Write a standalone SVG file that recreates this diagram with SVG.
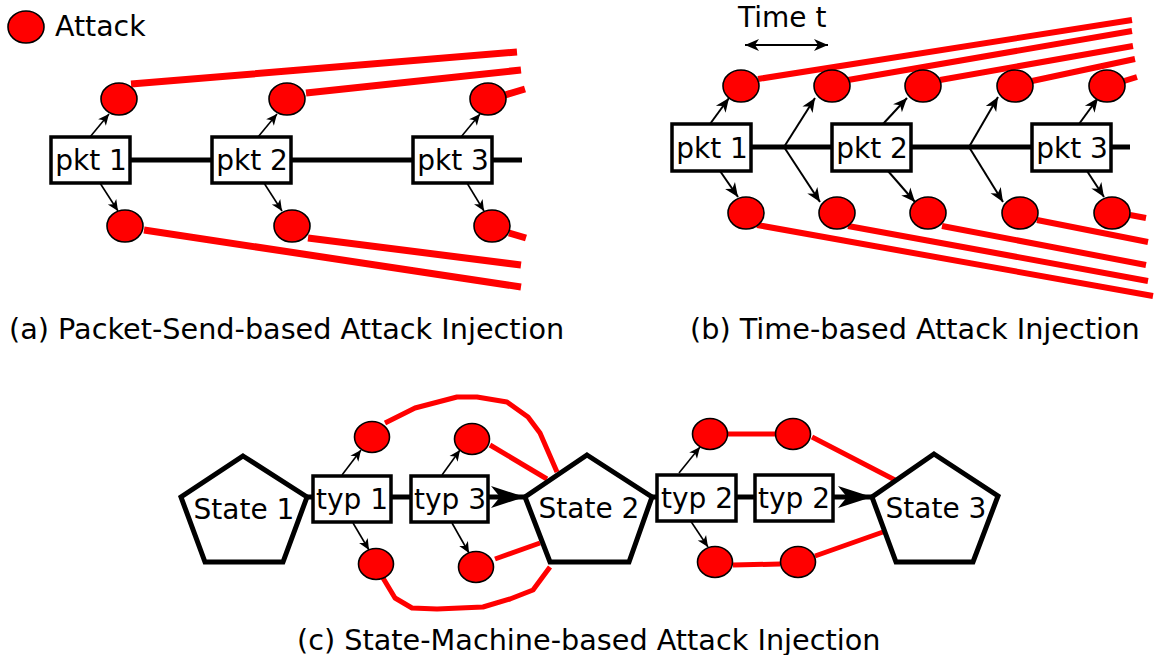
<svg xmlns="http://www.w3.org/2000/svg" width="1155" height="655" viewBox="0 0 1155 655">
  <style>
    text { font-family: "DejaVu Sans", "Liberation Sans", sans-serif; font-size: 28px; fill: #000; }
    .cap { font-size: 28.7px; }
    .lbl { text-anchor: middle; }
    .atk { fill: #ff0000; stroke: #000; stroke-width: 1.6; }
    .box { fill: #fff; stroke: #000; stroke-width: 3.5; }
    .state { fill: #fff; stroke: #000; stroke-width: 5; stroke-linejoin: miter; }
    .bus { stroke: #000; stroke-width: 5; fill: none; }
    .arr { stroke: #000; stroke-width: 1.6; fill: none; marker-end: url(#ah); }
    .arr2 { stroke: #000; stroke-width: 2; fill: none; marker-end: url(#ah2); }
    .red { stroke: #ff0000; fill: none; stroke-linejoin: round; }
  </style>
  <defs>
    <marker id="ah" viewBox="-12 -6 13 12" refX="0" refY="0" markerWidth="13" markerHeight="12" markerUnits="userSpaceOnUse" orient="auto">
      <path d="M0,0 L-11,-5 L-8,0 L-11,5 Z" fill="#000"/>
    </marker>
    <marker id="ah2" viewBox="-15 -7 16 14" refX="0" refY="0" markerWidth="16" markerHeight="14" markerUnits="userSpaceOnUse" orient="auto-start-reverse">
      <path d="M0,0 L-14,-6 L-10,0 L-14,6 Z" fill="#000"/>
    </marker>
    <marker id="bigah" viewBox="-36 -13 37 26" refX="0" refY="0" markerWidth="37" markerHeight="26" markerUnits="userSpaceOnUse" orient="auto">
      <path d="M0,0 L-34,-11 L-25,0 L-34,11 Z" fill="#000"/>
    </marker>
  </defs>

  <rect width="1155" height="655" fill="#fff"/>

  <!-- legend -->
  <g id="legend">
    <ellipse class="atk" cx="26" cy="27" rx="18" ry="16"/>
    <text x="55" y="36" style="font-size:28.4px">Attack</text>
  </g>

  <!-- all connectors -->
  <g id="connectors">
    <!-- (a) packet-send timeline -->
    <path class="bus" d="M130,160 H522"/>
    <path class="red" stroke-width="7" d="M131,84 L517,52 M306,93 L521,70 M505,95 L525,89 M144,230 L521,287 M308,238 L521,265 M509,233 L526,238"/>
    <path class="arr" d="M90,137 L109,114"/>
    <path class="arr" d="M100,183 L118,211"/>
    <path class="arr" d="M258,137 L277,114"/>
    <path class="arr" d="M264,183 L282,211"/>
    <path class="arr" d="M461,137 L480,114"/>
    <path class="arr" d="M467,183 L484,211"/>

    <!-- (b) time-based timeline -->
    <path class="bus" d="M751,147 H1130"/>
    <path class="arr2" d="M745,45 H828" style="marker-start:url(#ah2)"/>
    <path class="red" stroke-width="6" d="M758,79 L1132,20 M848,80 L1132,31 M940,80 L1133,46 M1032,81 L1135,59 M1124,81 L1137,77 M757,225 L1153,296 M848,226 L1148,281 M942,226 L1146,265 M1037,220 L1148,242 M1130,215 L1146,218"/>
    <path class="arr2" d="M710,124 L729,98"/>
    <path class="arr2" d="M720,171 L738,197"/>
    <path class="arr2" d="M784,147 L815,98"/>
    <path class="arr2" d="M784,147 L820,202"/>
    <path class="arr2" d="M883,124 L907,98"/>
    <path class="arr2" d="M888,171 L915,202"/>
    <path class="arr2" d="M969,147 L998,97"/>
    <path class="arr2" d="M969,147 L1003,202"/>
    <path class="arr2" d="M1079,124 L1098,98"/>
    <path class="arr2" d="M1087,171 L1104,197"/>

    <!-- (c) state machine -->
    <path class="bus" d="M307,497 H313 M391,497 H411 M652,497 H657 M736,497 H755"/>
    <path class="bus" d="M488,497 H525" style="marker-end:url(#bigah)"/>
    <path class="bus" d="M833,497 H872" style="marker-end:url(#bigah)"/>
    <path class="red" stroke-width="5" d="M385,423 L415,408 L457,397 L477,397 L507,402 L528,417 L540,433 L557,472"/>
    <path class="red" stroke-width="5" d="M490,445 L547,479"/>
    <path class="red" stroke-width="5" d="M495,559 L540,543"/>
    <path class="red" stroke-width="5" d="M383,578 L395,598 L412,608 L437,609 L483,607 L510,599 L533,590 L550,567"/>
    <path class="red" stroke-width="5" d="M728,434 L775,434 M812,437 L895,480 M733,565 L780,564 M815,556 L883,532"/>
    <path class="arr" d="M342,475 L361,450"/>
    <path class="arr" d="M353,523 L369,550"/>
    <path class="arr" d="M442,475 L460,450"/>
    <path class="arr" d="M452,523 L469,553"/>
    <path class="arr" d="M679,473 L700,447"/>
    <path class="arr" d="M690,520 L708,547"/>
  </g>

  <!-- (a) nodes -->
  <g id="a-pkt1"><rect class="box" x="51" y="137" width="79" height="46"/><text class="lbl" x="91" y="170">pkt 1</text></g>
  <g id="a-pkt2"><rect class="box" x="212" y="137" width="79" height="46"/><text class="lbl" x="252" y="170">pkt 2</text></g>
  <g id="a-pkt3"><rect class="box" x="413" y="137" width="79" height="46"/><text class="lbl" x="453" y="170">pkt 3</text></g>
  <g id="a-atk1"><ellipse class="atk" cx="119" cy="99" rx="18" ry="16"/></g>
  <g id="a-atk2"><ellipse class="atk" cx="287" cy="99" rx="18" ry="16"/></g>
  <g id="a-atk3"><ellipse class="atk" cx="488" cy="99" rx="18" ry="16"/></g>
  <g id="a-atk4"><ellipse class="atk" cx="125" cy="226" rx="18" ry="16"/></g>
  <g id="a-atk5"><ellipse class="atk" cx="292" cy="226" rx="18" ry="16"/></g>
  <g id="a-atk6"><ellipse class="atk" cx="492" cy="226" rx="18" ry="16"/></g>
  <text id="cap-a" class="cap" x="9" y="339">(a) Packet-Send-based Attack Injection</text>

  <!-- (b) nodes -->
  <text id="time-t" x="738" y="27">Time t</text>
  <g id="b-pkt1"><rect class="box" x="672" y="124" width="79" height="47"/><text class="lbl" x="712" y="158">pkt 1</text></g>
  <g id="b-pkt2"><rect class="box" x="832" y="124" width="79" height="47"/><text class="lbl" x="872" y="158">pkt 2</text></g>
  <g id="b-pkt3"><rect class="box" x="1032" y="124" width="79" height="47"/><text class="lbl" x="1072" y="158">pkt 3</text></g>
  <g id="b-atk1"><ellipse class="atk" cx="741" cy="86" rx="18" ry="16"/></g>
  <g id="b-atk2"><ellipse class="atk" cx="832" cy="86" rx="18" ry="16"/></g>
  <g id="b-atk3"><ellipse class="atk" cx="923" cy="86" rx="18" ry="16"/></g>
  <g id="b-atk4"><ellipse class="atk" cx="1015" cy="86" rx="18" ry="16"/></g>
  <g id="b-atk5"><ellipse class="atk" cx="1107" cy="86" rx="18" ry="16"/></g>
  <g id="b-atk6"><ellipse class="atk" cx="746" cy="213" rx="18" ry="16"/></g>
  <g id="b-atk7"><ellipse class="atk" cx="837" cy="213" rx="18" ry="16"/></g>
  <g id="b-atk8"><ellipse class="atk" cx="928" cy="213" rx="18" ry="16"/></g>
  <g id="b-atk9"><ellipse class="atk" cx="1020" cy="213" rx="18" ry="16"/></g>
  <g id="b-atk10"><ellipse class="atk" cx="1112" cy="213" rx="18" ry="16"/></g>
  <text id="cap-b" class="cap" x="690" y="339">(b) Time-based Attack Injection</text>

  <!-- (c) nodes -->
  <g id="state1"><polygon class="state" points="243,456 307,497 283,562 205,562 181,497"/><text class="lbl" x="244" y="519">State 1</text></g>
  <g id="state2"><polygon class="state" points="587,455 652,497 629,562 550,562 525,497"/><text class="lbl" x="589" y="518">State 2</text></g>
  <g id="state3"><polygon class="state" points="934,454 998,496 973,562 896,562 872,497"/><text class="lbl" x="936" y="518">State 3</text></g>
  <g id="typ1"><rect class="box" x="313" y="476" width="78" height="46"/><text class="lbl" x="352" y="509">typ 1</text></g>
  <g id="typ3"><rect class="box" x="411" y="476" width="77" height="46"/><text class="lbl" x="450" y="509">typ 3</text></g>
  <g id="typ2a"><rect class="box" x="657" y="475" width="79" height="46"/><text class="lbl" x="697" y="508">typ 2</text></g>
  <g id="typ2b"><rect class="box" x="755" y="475" width="78" height="46"/><text class="lbl" x="794" y="508">typ 2</text></g>
  <g id="c-atk1"><ellipse class="atk" cx="372" cy="437" rx="17.5" ry="15.5"/></g>
  <g id="c-atk2"><ellipse class="atk" cx="472" cy="439" rx="17.5" ry="15.5"/></g>
  <g id="c-atk3"><ellipse class="atk" cx="376" cy="564" rx="17.5" ry="15.5"/></g>
  <g id="c-atk4"><ellipse class="atk" cx="476" cy="567" rx="17.5" ry="15.5"/></g>
  <g id="c-atk5"><ellipse class="atk" cx="710" cy="434" rx="17.5" ry="15.5"/></g>
  <g id="c-atk6"><ellipse class="atk" cx="793" cy="434" rx="17.5" ry="15.5"/></g>
  <g id="c-atk7"><ellipse class="atk" cx="715" cy="562" rx="17.5" ry="15.5"/></g>
  <g id="c-atk8"><ellipse class="atk" cx="798" cy="562" rx="17.5" ry="15.5"/></g>
  <text id="cap-c" class="cap" x="297" y="650">(c) State-Machine-based Attack Injection</text>
</svg>
